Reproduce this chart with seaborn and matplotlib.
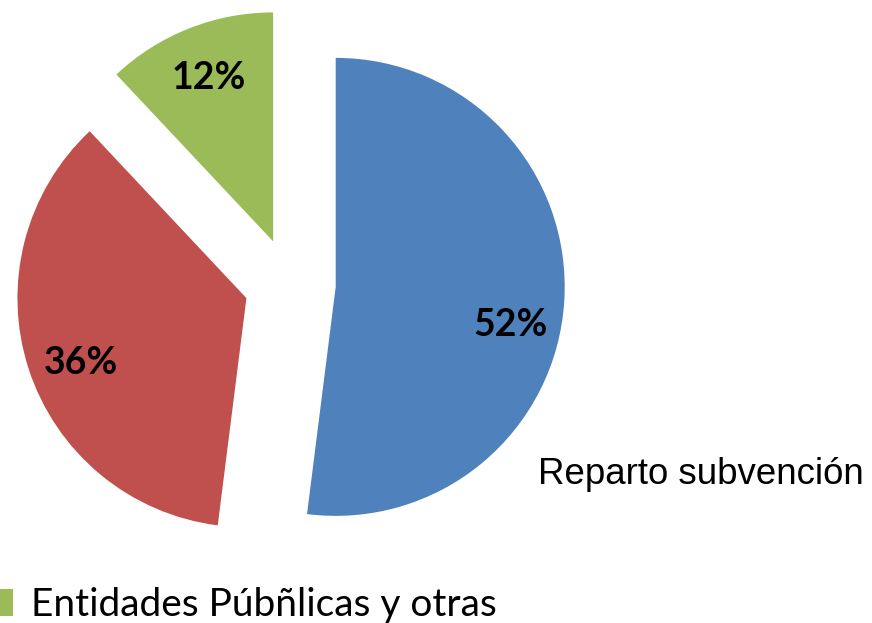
import matplotlib
matplotlib.use('Agg')
import matplotlib.pyplot as plt
import seaborn as sns

# datos
categorias = ['', '', 'Entidades Púbñlicas y otras']
valores = [52, 36, 12]
colores = ['#4F81BD', '#C0504D', '#9BBB59']
titulo = 'Reparto subvención'

sns.set_style('white')
plt.rcParams['font.family'] = ['Lato', 'DejaVu Sans']
plt.rcParams['text.color'] = 'black'

W, H, R = 872, 623, 229
cx, cy = 290, 284

fig = plt.figure(figsize=(W / 100, H / 100), dpi=100)
ax = fig.add_axes([0, 0, 1, 1])

wedges, texts, autotexts = ax.pie(
    valores, colors=colores, startangle=90, counterclock=False,
    explode=[0.2, 0.2, 0.2], radius=1,
    autopct='%1.0f%%', pctdistance=0.78,
    wedgeprops=dict(linewidth=0),
    textprops=dict(fontsize=27, fontweight='bold', color='black'))

# posiciones de las etiquetas (coordenadas de datos)
pos_etiquetas = [(0.965, -0.18), (-0.913, -0.343), (-0.354, 0.899)]
for t, p in zip(autotexts, pos_etiquetas):
    t.set_position(p)

ax.set_aspect('equal')
ax.set_xlim(-cx / R, (W - cx) / R)
ax.set_ylim(-(H - cy) / R, cy / R)
ax.axis('off')

# leyenda (solo la serie verde es visible)
leg = fig.legend([wedges[2]], [categorias[2]], loc='lower left',
                 bbox_to_anchor=(-13 / W, 0), frameon=False,
                 fontsize=28, handlelength=0.67, handleheight=0.67,
                 handletextpad=0.45, borderpad=0, borderaxespad=0,
                 labelcolor='black')

fig.text(538 / W, 1 - 475 / H, titulo, fontsize=26.4, color='black',
         family='Liberation Sans', ha='left', va='center')

fig.savefig('out.png', dpi=100)
